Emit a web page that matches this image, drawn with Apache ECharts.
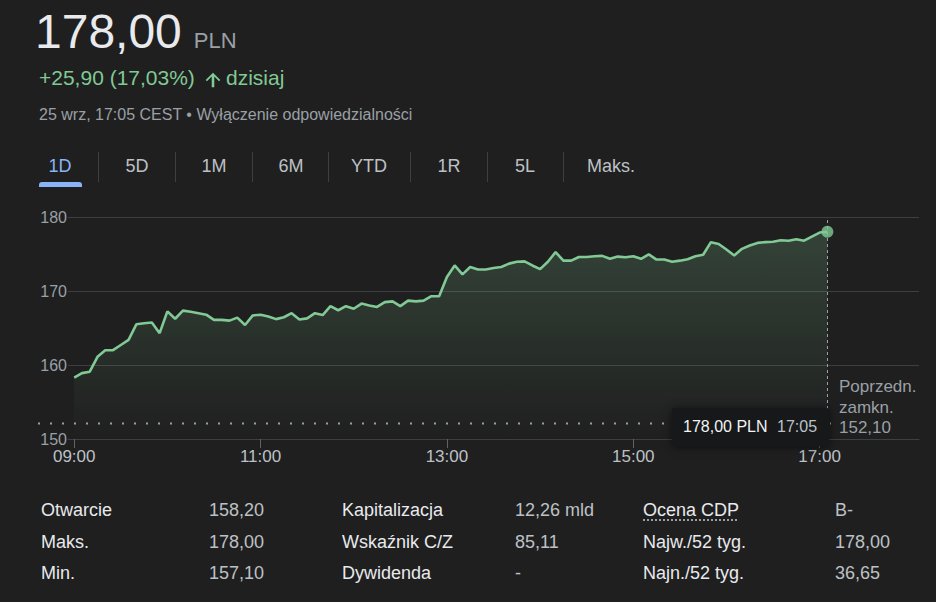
<!DOCTYPE html>
<html>
<head>
<meta charset="utf-8">
<script src="https://cdn.jsdelivr.net/npm/echarts@6/dist/echarts.min.js"></script>
<style>
  html, body { margin:0; padding:0; background:#1f1f1f; width:936px; height:602px; overflow:hidden; }
  body { font-family: "Liberation Sans", Arial, sans-serif; position:relative; }
  .abs { position:absolute; white-space:nowrap; }
  #chart { position:absolute; left:0; top:0; width:936px; height:602px; }
  .tab { position:absolute; top:151px; width:80px; text-align:center; font-size:18px; line-height:30px; color:#bdc1c6; }
  .sep { position:absolute; top:152px; width:1px; height:30px; background:#3c4043; }
  .cell { position:absolute; font-size:18px; line-height:31.6px; }
</style>
</head>
<body>
<div id="chart"></div>
<div id="overlay"></div>
<script>
// ---------- data ----------
const times = [
  "09:00","09:05","09:10","09:15","09:20","09:25","09:30","09:35","09:40","09:45","09:50","09:55",
  "10:00","10:05","10:10","10:15","10:20","10:25","10:30","10:35","10:40","10:45","10:50","10:55",
  "11:00","11:05","11:10","11:15","11:20","11:25","11:30","11:35","11:40","11:45","11:50","11:55",
  "12:00","12:05","12:10","12:15","12:20","12:25","12:30","12:35","12:40","12:45","12:50","12:55",
  "13:00","13:05","13:10","13:15","13:20","13:25","13:30","13:35","13:40","13:45","13:50","13:55",
  "14:00","14:05","14:10","14:15","14:20","14:25","14:30","14:35","14:40","14:45","14:50","14:55",
  "15:00","15:05","15:10","15:15","15:20","15:25","15:30","15:35","15:40","15:45","15:50","15:55",
  "16:00","16:05","16:10","16:15","16:20","16:25","16:30","16:35","16:40","16:45","16:50","16:55",
  "17:00","17:05"
];
const prices = [
  158.30,158.90,159.10,161.10,162.00,162.00,162.70,163.40,165.50,165.65,165.75,164.30,
  167.25,166.25,167.35,167.20,167.00,166.80,166.10,166.10,166.00,166.40,165.40,166.70,
  166.80,166.55,166.20,166.45,167.00,166.15,166.30,167.00,166.75,167.95,167.40,167.95,
  167.60,168.30,168.05,167.85,168.50,168.60,167.95,168.70,168.60,168.70,169.30,169.30,
  171.90,173.45,172.25,173.25,172.90,172.90,173.10,173.25,173.70,173.95,174.00,173.45,
  172.95,173.95,175.25,174.10,174.10,174.60,174.60,174.70,174.75,174.35,174.65,174.55,
  174.70,174.35,174.95,174.25,174.25,173.95,174.10,174.30,174.70,174.90,176.60,176.35,
  175.60,174.80,175.70,176.15,176.50,176.60,176.65,176.85,176.80,177.00,176.80,177.35,
  177.90,178.00
];
const prevClose = 152.10;
const yTicks = [150, 160, 170, 180];
const xTickLabels = ["09:00", "11:00", "13:00", "15:00", "17:00"];

const tabs = ["1D", "5D", "1M", "6M", "YTD", "1R", "5L", "Maks."];
const statLabels1 = ["Otwarcie", "Maks.", "Min."];
const statValues1 = ["158,20", "178,00", "157,10"];
const statLabels2 = ["Kapitalizacja", "Wskaźnik C/Z", "Dywidenda"];
const statValues2 = ["12,26 mld", "85,11", "-"];
const statLabels3 = ["Ocena CDP", "Najw./52 tyg.", "Najn./52 tyg."];
const statValues3 = ["B-", "178,00", "36,65"];

const priceText = "178,00";
const currency = "PLN";
const changeText = "+25,90 (17,03%)";
const changeSuffix = "dzisiaj";
const dateLine = "25 wrz, 17:05 CEST • Wyłączenie odpowiedzialności";
const tooltipPrice = "178,00 PLN";
const tooltipTime = "17:05";
const prevCloseLines = ["Poprzedn.", "zamkn.", "152,10"];

// ---------- helpers ----------
function toMin(t) { const p = t.split(":"); return (+p[0]) * 60 + (+p[1]) - 540; }
const green = "#81c995";

// ---------- HTML text ----------
const ov = document.getElementById("overlay");
let h = "";
h += `<div class="abs" style="left:35px;top:8px;font-size:48px;line-height:48px;color:#e8eaed">${priceText}<span style="font-size:22px;color:#9aa0a6;margin-left:12px">${currency}</span></div>`;
h += `<div class="abs" style="left:39px;top:66px;font-size:21px;line-height:24px;color:${green}">${changeText}</div>`;
h += `<svg class="abs" style="left:202px;top:69px" width="22" height="22" viewBox="0 0 24 24"><path fill="${green}" d="M4 12l1.41 1.41L10.6 8.2V20h2.8V8.2l5.2 5.2L20 12l-8-8-8 8z"/></svg>`;
h += `<div class="abs" style="left:226px;top:66px;font-size:21px;line-height:24px;color:${green}">${changeSuffix}</div>`;
h += `<div class="abs" style="left:39px;top:105px;font-size:16px;line-height:20px;color:#9aa0a6">${dateLine}</div>`;
const tabCenters = [60, 137, 214, 291, 369, 449, 525, 611];
const sepX = [98, 175, 252, 328, 410, 487, 563];
tabs.forEach((t, i) => {
  h += `<div class="tab" style="left:${tabCenters[i]-40}px;${i===0?'color:#8ab4f8':''}">${t}</div>`;
});
sepX.forEach(x => { h += `<div class="sep" style="left:${x}px"></div>`; });
h += `<div class="abs" style="left:39px;top:182px;width:43px;height:5px;background:#8ab4f8;border-radius:3px 3px 0 0"></div>`;
// tooltip
h += `<div class="abs" style="left:672px;top:408px;width:157px;height:38px;background:#171819;border-radius:2px;box-shadow:0 1px 10px rgba(0,0,0,0.55)">
  <span class="abs" style="left:11px;top:9px;font-size:16px;line-height:20px;color:#f1f3f4">${tooltipPrice}</span>
  <span class="abs" style="left:105px;top:9px;font-size:16px;line-height:20px;color:#bdc1c6">${tooltipTime}</span></div>`;
// prev close label
h += `<div class="abs" style="left:839px;top:377px;font-size:17px;line-height:20.5px;color:#9aa0a6">${prevCloseLines.join("<br>")}</div>`;
// stats table
const cols = [
  [statLabels1, 41, "#e8eaed"], [statValues1, 209, "#bdc1c6"],
  [statLabels2, 342, "#e8eaed"], [statValues2, 515, "#bdc1c6"],
  [statLabels3, 643, "#e8eaed"], [statValues3, 835, "#bdc1c6"]
];
cols.forEach(([arr, x, c]) => {
  arr.forEach((txt, r) => {
    const deco = (txt === "Ocena CDP") ? "text-decoration:underline dotted #9aa0a6;text-underline-offset:4px;" : "";
    h += `<div class="cell abs" style="left:${x}px;top:${495 + r*31.6}px;color:${c};${deco}">${txt}</div>`;
  });
});
ov.innerHTML = h;

// ---------- chart ----------
const chart = echarts.init(document.getElementById("chart"), null, { renderer: "svg" });
const seriesData = times.map((t, i) => [toMin(t), prices[i]]);
const last = seriesData[seriesData.length - 1];
const tickVals = xTickLabels.map(toMin);

chart.setOption({
  backgroundColor: "transparent",
  animation: false,
  grid: [
    { left: 68, right: 17, top: 217, height: 222 },
    { left: 38, right: 105, top: 217, height: 222 }
  ],
  xAxis: [
    {
      type: "value", gridIndex: 0, min: -4, max: 544,
      axisLine: { show: true, lineStyle: { color: "#3c4043", width: 1 } },
      axisTick: { show: true, customValues: tickVals, length: 9, lineStyle: { color: "#5f6368" } },
      axisLabel: {
        customValues: tickVals, color: "#bdc1c6", fontSize: 17, margin: 9,
        fontFamily: "Liberation Sans, Arial, sans-serif",
        formatter: v => xTickLabels[tickVals.indexOf(v)] || ""
      },
      splitLine: { show: false }
    },
    { type: "value", gridIndex: 1, min: 0, max: 1, show: false }
  ],
  yAxis: [
    {
      type: "value", gridIndex: 0, min: yTicks[0], max: yTicks[yTicks.length - 1], interval: 10,
      axisLine: { show: false }, axisTick: { show: false },
      axisLabel: { color: "#9aa0a6", fontSize: 16, margin: 1, fontFamily: "Liberation Sans, Arial, sans-serif" },
      splitLine: { show: true, lineStyle: { color: "#3c4043", width: 1 } }
    },
    { type: "value", gridIndex: 1, min: yTicks[0], max: yTicks[yTicks.length - 1], show: false }
  ],
  series: [
    {
      type: "line", xAxisIndex: 1, yAxisIndex: 1, silent: true, showSymbol: false,
      data: [[0, prevClose], [1, prevClose]],
      lineStyle: { color: "#9aa0a6", width: 2, type: [2, 10] }, z: 1
    },
    {
      type: "line", xAxisIndex: 0, yAxisIndex: 0, data: seriesData, showSymbol: false, silent: true,
      lineStyle: { color: green, width: 2.6 },
      areaStyle: {
        origin: "start",
        color: new echarts.graphic.LinearGradient(0, 0, 0, 1, [
          { offset: 0, color: "rgba(129,201,149,0.30)" },
          { offset: 1, color: "rgba(129,201,149,0.0)" }
        ])
      },
      markLine: {
        silent: true, symbol: "none", label: { show: false },
        lineStyle: { color: "#9aa0a6", width: 1, type: [3, 3] },
        data: [{ xAxis: last[0] }]
      },
      z: 3
    },
    {
      type: "scatter", xAxisIndex: 0, yAxisIndex: 0, data: [last], symbolSize: 12, silent: true,
      itemStyle: { color: green }, z: 5
    }
  ]
});
</script>
</body>
</html>
